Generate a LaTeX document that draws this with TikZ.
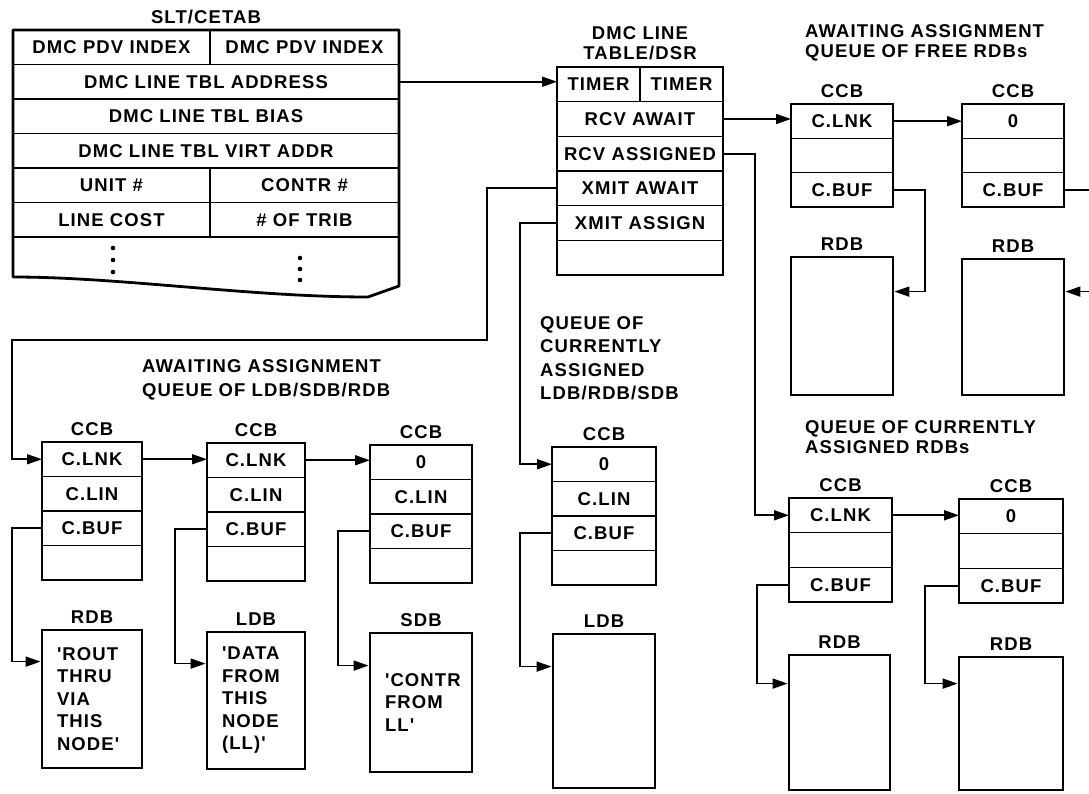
\documentclass[tikz,border=0pt]{standalone}
\usepackage{fontspec}
\newfontfamily\drawfont{Liberation Sans Bold}[LetterSpace=6]
\usetikzlibrary{arrows.meta, positioning, fit, calc}
\newcommand{\lbl}{\drawfont\fontsize{18.5}{22.5}\selectfont}
\tikzset{
  fld/.style={
    draw, line width=1.3pt, minimum width=#1, minimum height=34.5pt,
    inner sep=0pt, outer sep=0pt, font=\lbl,
  },
  fld/.default=102pt,
  ccbframe/.style={draw, line width=2.8pt, inner sep=0pt},
  dbbox/.style={
    draw, line width=2.8pt, minimum width=102pt, minimum height=138pt,
    inner sep=0pt, font=\lbl,
  },
  dbtext/.style={inner xsep=15pt, text width=72pt, align=left},
  arw/.style={-{Triangle[length=15pt,width=10pt]}, line width=1.7pt},
}

\begin{document}
\begin{tikzpicture}[
  x=1pt, y=-1pt,
  ttl/.style={font=\lbl, inner sep=0pt},
  qttl/.style={font=\lbl, inner sep=0pt, anchor=west, align=left},
]
  \fill[white] (0,0) rectangle (1089,794);
  \useasboundingbox (0,0) rectangle (1089,794);

  % SLT/CETAB
  \node[ttl] (slt-ttl) at (206,17) {SLT/CETAB};
  \node[fld=197pt] (slt-pdv1) at (111.5,47.25) {DMC PDV INDEX};
  \node[fld=189pt] (slt-pdv2) at (304.5,47.25) {DMC PDV INDEX};
  \node[fld=386pt] (slt-addr) at (206,81.75) {DMC LINE TBL ADDRESS};
  \node[fld=386pt] (slt-bias) at (206,116.25) {DMC LINE TBL BIAS};
  \node[fld=386pt] (slt-virt) at (206,150.75) {DMC LINE TBL VIRT ADDR};
  \node[fld=197pt] (slt-unit) at (111.5,185.25) {UNIT \#};
  \node[fld=189pt] (slt-contr) at (304.5,185.25) {CONTR \#};
  \node[fld=197pt] (slt-cost) at (111.5,219.75) {LINE COST};
  \node[fld=189pt] (slt-trib) at (304.5,219.75) {\# OF TRIB};
  \draw[line width=2.8pt, line join=round] (13,30) -- (399,30) -- (399,286) -- (368,297)
    .. controls (250,297) and (120,277) .. (13,277) -- cycle;
  \foreach \yy in {248,260,272} \fill (113,\yy) circle (2.3pt);
  \foreach \yy in {258,269,280} \fill (300,\yy) circle (2.3pt);

  % DMC line table
  \node[ttl, align=center] (dmc-ttl) at (640,43) {DMC LINE\\[-2.5pt]TABLE/DSR};
  \node[fld=83pt, minimum height=34.67pt] (dmc-tim1) at (598.5,84.33) {TIMER};
  \node[fld=83pt, minimum height=34.67pt] (dmc-tim2) at (681.5,84.33) {TIMER};
  \node[fld=166pt, minimum height=34.67pt] (dmc-rcvaw) at (640,119) {RCV AWAIT};
  \node[fld=166pt, minimum height=34.67pt] (dmc-rcvas) at (640,153.67) {RCV ASSIGNED};
  \node[fld=166pt, minimum height=34.67pt] (dmc-xaw) at (640,188.33) {XMIT AWAIT};
  \node[fld=166pt, minimum height=34.67pt] (dmc-xas) at (640,223) {XMIT ASSIGN};
  \node[fld=166pt, minimum height=34.67pt] (dmc-nil) at (640,257.67) {};
  \node[ccbframe, fit=(dmc-tim1)(dmc-nil)] (dmc) {};

  % Awaiting assignment queue of free RDBs
  \node[qttl] (free-ttl) at (805,43) {AWAITING ASSIGNMENT\\[-2.5pt]QUEUE OF FREE RDBs};
  \node[fld, minimum height=34.33pt] (ccbF1-lnk) at (842,121.2) {C.LNK};
  \node[fld, minimum height=34.33pt] (ccbF1-nil) at (842,155.5) {};
  \node[fld, minimum height=34.33pt] (ccbF1-buf) at (842,189.8) {C.BUF};
  \node[ccbframe, fit=(ccbF1-lnk)(ccbF1-buf)] (ccbF1) {};
  \node[ttl, above=5pt of ccbF1] {CCB};
  \node[fld, minimum height=34.33pt] (ccbF2-0) at (1013,121.2) {0};
  \node[fld, minimum height=34.33pt] (ccbF2-nil) at (1013,155.5) {};
  \node[fld, minimum height=34.33pt] (ccbF2-buf) at (1013,189.8) {C.BUF};
  \node[ccbframe, fit=(ccbF2-0)(ccbF2-buf)] (ccbF2) {};
  \node[ttl, above=5pt of ccbF2] {CCB};
  \node[dbbox] (rdbF1) at (842,326) {};
  \node[ttl, above=5pt of rdbF1] {RDB};
  \node[dbbox, minimum height=136pt] (rdbF2) at (1013,327) {};
  \node[ttl, above=5pt of rdbF2] {RDB};

  % Queue of currently assigned RDBs
  \node[qttl] (asg-ttl) at (805,437) {QUEUE OF CURRENTLY\\[-2.5pt]ASSIGNED RDBs};
  \node[fld=103pt, minimum height=34.67pt] (ccbR1-lnk) at (840.5,515.3) {C.LNK};
  \node[fld=103pt, minimum height=34.67pt] (ccbR1-nil) at (840.5,550) {};
  \node[fld=103pt, minimum height=34.67pt] (ccbR1-buf) at (840.5,584.7) {C.BUF};
  \node[ccbframe, fit=(ccbR1-lnk)(ccbR1-buf)] (ccbR1) {};
  \node[ttl, above=5pt of ccbR1] {CCB};
  \node[fld=104pt, minimum height=34.67pt] (ccbR2-0) at (1011,516.3) {0};
  \node[fld=104pt, minimum height=34.67pt] (ccbR2-nil) at (1011,551) {};
  \node[fld=104pt, minimum height=34.67pt] (ccbR2-buf) at (1011,585.7) {C.BUF};
  \node[ccbframe, fit=(ccbR2-0)(ccbR2-buf)] (ccbR2) {};
  \node[ttl, above=5pt of ccbR2] {CCB};
  \node[dbbox, minimum width=101pt, minimum height=135pt] (rdbR1) at (839.5,722.5) {};
  \node[ttl, above=5pt of rdbR1] {RDB};
  \node[dbbox, minimum width=104pt, minimum height=133pt] (rdbR2) at (1011,723.5) {};
  \node[ttl, above=5pt of rdbR2] {RDB};

  % Awaiting assignment queue of LDB/SDB/RDB
  \node[qttl] (xaw-ttl) at (142,380) {AWAITING ASSIGNMENT\\[1.5pt]QUEUE OF LDB/SDB/RDB};
  \node[fld=100pt] (ccbA-lnk) at (92,459.25) {C.LNK};
  \node[fld=100pt] (ccbA-lin) at (92,493.75) {C.LIN};
  \node[fld=100pt] (ccbA-buf) at (92,528.25) {C.BUF};
  \node[fld=100pt] (ccbA-nil) at (92,562.75) {};
  \node[ccbframe, fit=(ccbA-lnk)(ccbA-nil)] (ccbA) {};
  \node[ttl, above=5pt of ccbA] {CCB};
  \node[fld=98pt] (ccbB-lnk) at (256,460.25) {C.LNK};
  \node[fld=98pt] (ccbB-lin) at (256,494.75) {C.LIN};
  \node[fld=98pt] (ccbB-buf) at (256,529.25) {C.BUF};
  \node[fld=98pt] (ccbB-nil) at (256,563.75) {};
  \node[ccbframe, fit=(ccbB-lnk)(ccbB-nil)] (ccbB) {};
  \node[ttl, above=5pt of ccbB] {CCB};
  \node[fld] (ccbC-0) at (421,462.25) {0};
  \node[fld] (ccbC-lin) at (421,496.75) {C.LIN};
  \node[fld] (ccbC-buf) at (421,531.25) {C.BUF};
  \node[fld] (ccbC-nil) at (421,565.75) {};
  \node[ccbframe, fit=(ccbC-0)(ccbC-nil)] (ccbC) {};
  \node[ttl, above=5pt of ccbC] {CCB};
  \node[dbbox, dbtext, text width=70pt, minimum width=100pt] (rdbA) at (92,699)
    {'ROUT\\THRU\\VIA\\THIS\\NODE'};
  \node[ttl, above=5pt of rdbA] {RDB};
  \node[dbbox, dbtext, text width=68pt, minimum width=98pt, minimum height=137pt] (ldbB) at (256,700.5)
    {'DATA\\FROM\\THIS\\NODE\\(LL)'};
  \node[ttl, above=5pt of ldbB] {LDB};
  \node[dbbox, dbtext, minimum height=139pt] (sdbC) at (421,702.5)
    {'CONTR\\FROM\\LL'};
  \node[ttl, above=5pt of sdbC] {SDB};

  % Queue of currently assigned LDB/RDB/SDB
  \node[qttl] (xas-ttl) at (540,358) {QUEUE OF\\[1pt]CURRENTLY\\[1pt]ASSIGNED\\[1pt]LDB/RDB/SDB};
  \node[fld=104pt] (ccbD-0) at (604,464.25) {0};
  \node[fld=104pt] (ccbD-lin) at (604,498.75) {C.LIN};
  \node[fld=104pt] (ccbD-buf) at (604,533.25) {C.BUF};
  \node[fld=104pt] (ccbD-nil) at (604,567.75) {};
  \node[ccbframe, fit=(ccbD-0)(ccbD-nil)] (ccbD) {};
  \node[ttl, above=5pt of ccbD] {CCB};
  \node[dbbox, minimum height=154pt] (ldbD) at (604,711) {};
  \node[ttl, above=5pt of ldbD] {LDB};

  % Links
  \coordinate (xa-a) at (487,340);
  \coordinate (xa-b) at (12,340);
  \draw[arw] (slt-addr.east) -- (slt-addr.east -| dmc-tim1.west);
  \draw[arw] (dmc-rcvaw.east) -- (dmc-rcvaw.east -| ccbF1-lnk.west);
  \draw[arw] (dmc-rcvas.east) -- ++(32,0) |- (ccbR1-lnk.west);
  \draw[arw] (dmc-xaw.west) -| (xa-a) -- (xa-b) |- (ccbA-lnk.west);
  \draw[arw] (dmc-xas.west) -- ++(-37,0) |- (ccbD-0.west);

  \draw[arw] (ccbF1-lnk.east) -- (ccbF2-0.west);
  \draw[arw] (ccbF1-buf.east) -- ++(32,0) |- ([yshift=-36pt]rdbF1.north east);
  \draw[arw] (ccbF2-buf.east) -- ++(32,0) |- ([yshift=-34pt]rdbF2.north east);

  \draw[arw] (ccbR1-lnk.east) -- (ccbR1-lnk.east -| ccbR2-0.west);
  \draw[arw] (ccbR1-buf.west) -- ++(-32,0) |- ([yshift=-30pt]rdbR1.north west);
  \draw[arw] (ccbR2-buf.west) -- ++(-34,0) |- ([yshift=-28pt]rdbR2.north west);

  \draw[arw] (ccbA-lnk.east) -- (ccbA-lnk.east -| ccbB-lnk.west);
  \draw[arw] (ccbB-lnk.east) -- (ccbB-lnk.east -| ccbC-0.west);
  \draw[arw] (ccbA-buf.west) -- ++(-30,0) |- ([yshift=-33pt]rdbA.north west);
  \draw[arw] (ccbB-buf.west) -- ++(-32,0) |- ([yshift=-33pt]ldbB.north west);
  \draw[arw] (ccbC-buf.west) -- ++(-32,0) |- ([yshift=-34pt]sdbC.north west);
  \draw[arw] (ccbD-buf.west) -- ++(-32,0) |- ([yshift=-34pt]ldbD.north west);

\end{tikzpicture}
\end{document}
